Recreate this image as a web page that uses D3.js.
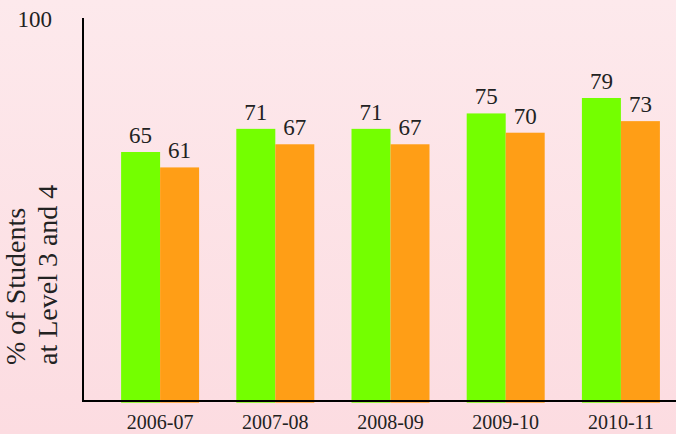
<html>
<head>
<script src="https://cdn.jsdelivr.net/npm/d3@7"></script>
<style>
  body { margin: 0; }
  text { font-family: "Liberation Serif", "DejaVu Serif", serif; fill: #222; }
</style>
</head>
<body>
<svg id="chart" width="676" height="434"></svg>
<script>
// data
let years = ["2006-07", "2007-08", "2008-09", "2009-10", "2010-11"]
let seriesA = [65, 71, 71, 75, 79]   // green
let seriesB = [61, 67, 67, 70, 73]   // orange
let colors = ["#74ff00", "#ff9e16"]

let svg = d3.select("#chart")

// pink background
let grad = svg.append("defs").append("linearGradient")
    .attr("id", "bg").attr("x1", 0).attr("y1", 0).attr("x2", 0).attr("y2", 1)
grad.append("stop").attr("offset", "0%").attr("stop-color", "#fde9ec")
grad.append("stop").attr("offset", "100%").attr("stop-color", "#fcdce1")
svg.append("rect").attr("width", 676).attr("height", 434).attr("fill", "url(#bg)")

let x = d3.scaleBand().domain(years).range([102.5, 678.5])
    .paddingInner(0.323).paddingOuter(0.1615)
let xs = d3.scaleBand().domain([0, 1]).range([0, x.bandwidth()])
let y = d3.scaleLinear().domain([0, 100]).range([402.7, 17])

let rows = years.map((yr, i) => ({ year: yr, vals: [seriesA[i], seriesB[i]] }))

let groups = svg.selectAll("g.grp")
    .data(rows)
    .enter().append("g")
    .attr("class", "grp")
    .attr("transform", d => "translate(" + x(d.year) + ",0)")

groups.selectAll("rect")
    .data(d => d.vals)
    .enter().append("rect")
    .attr("x", (d, i) => xs(i))
    .attr("width", xs.bandwidth())
    .attr("y", d => y(d))
    .attr("height", d => y(0) - y(d))
    .attr("fill", (d, i) => colors[i])

groups.selectAll("text")
    .data(d => d.vals)
    .enter().append("text")
    .attr("x", (d, i) => xs(i) + xs.bandwidth() / 2)
    .attr("y", d => y(d) - 9)
    .attr("text-anchor", "middle")
    .style("font-size", "23px")
    .text(d => d)

// axes: plain lines, no ticks
svg.append("line").attr("x1", 83).attr("x2", 83).attr("y1", 18).attr("y2", 402)
    .attr("stroke", "#000").attr("stroke-width", 2)
svg.append("line").attr("x1", 82).attr("x2", 676).attr("y1", 401).attr("y2", 401)
    .attr("stroke", "#000").attr("stroke-width", 2)

// category labels
svg.selectAll("text.cat")
    .data(years)
    .enter().append("text")
    .attr("class", "cat")
    .attr("x", d => x(d) + x.bandwidth() / 2)
    .attr("y", 429)
    .attr("text-anchor", "middle")
    .style("font-size", "20px")
    .text(d => d)

// top value of y axis
svg.append("text").attr("x", 52).attr("y", 27).attr("text-anchor", "end")
    .style("font-size", "23px").text(y.domain()[1])

// y title, two lines
let title = svg.append("text")
    .attr("transform", "translate(25,365) rotate(-90)")
    .style("font-size", "28px")
title.append("tspan").attr("x", 0).attr("y", 0).text("% of Students")
title.append("tspan").attr("x", 0).attr("y", 32).text("at Level 3 and 4")
</script>
</body>
</html>
